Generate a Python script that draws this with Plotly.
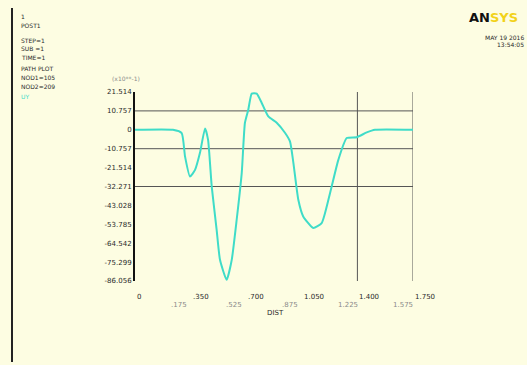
import plotly.graph_objects as go

# Path plot: distance along the path vs. item value
dist = [0.000, 0.239, 0.294, 0.315, 0.346, 0.378, 0.409, 0.441, 0.460, 0.483,
        0.514, 0.535, 0.577, 0.609, 0.640, 0.672, 0.692, 0.713, 0.735, 0.766,
        0.797, 0.839, 0.892, 0.944, 0.976, 0.997, 1.028, 1.059, 1.122, 1.175,
        1.228, 1.280, 1.333, 1.396, 1.459, 1.511, 1.750]
value = [0.0, 0.0, -1.9, -15.2, -26.6, -22.8, -13.1, 0.8, -5.7, -32.3,
         -56.9, -74.0, -85.4, -74.0, -51.2, -24.5, 4.0, 11.4, 20.6, 20.6,
         15.4, 7.6, 4.0, -1.7, -6.7, -18.8, -39.8, -49.3, -55.9, -53.1,
         -35.9, -17.1, -4.7, -4.2, -1.5, 0.0, 0.0]

y_ticks = [21.514, 10.757, 0.0, -10.757, -21.514, -32.271, -43.028,
           -53.785, -64.542, -75.299, -86.056]
y_labels = ["21.514", "10.757", "0", "-10.757", "-21.514", "-32.271", "-43.028",
            "-53.785", "-64.542", "-75.299", "-86.056"]
x_ticks = [0.0, 0.35, 0.70, 1.05, 1.40, 1.75]
x_labels = ["0", ".350", ".700", "1.050", "1.400", "1.750"]
x_mid_ticks = [0.175, 0.525, 0.875, 1.225, 1.575]
x_mid_labels = [".175", ".525", ".875", "1.225", "1.575"]
grid_y = [10.757, -10.757, -32.271]
grid_x = [1.40, 1.75]

legend_lines = ["1", "POST1", "", "STEP=1", "SUB =1", "TIME=1",
                "PATH PLOT", "NOD1=105", "NOD2=209"]
item_name = "UY"
date_lines = ["MAY 19 2016", "13:54:05"]

W, H = 527, 365
L, R, T, B = 135, 413, 92, 281
BG = "#fdfde2"
TXT = "#2a2a2a"
FONT = "DejaVu Sans"


def px(xp):
    return (xp - L) / (R - L)


def py(yp):
    return (B - yp) / (B - T)


fig = go.Figure()
fig.add_trace(go.Scatter(
    x=dist, y=value, mode="lines",
    line=dict(color="#3fdcc8", width=2, shape="spline", smoothing=0.5),
    hoverinfo="skip", showlegend=False, cliponaxis=False,
))

shapes = []
for gy in grid_y:
    shapes.append(dict(type="line", xref="x", yref="y", x0=0, x1=1.75,
                       y0=gy, y1=gy, line=dict(color="#555555", width=1),
                       layer="below"))
for gx in grid_x:
    shapes.append(dict(type="line", xref="x", yref="y", x0=gx, x1=gx,
                       y0=y_ticks[-1], y1=y_ticks[0],
                       line=dict(color="#555555", width=1), layer="below"))
# frame line at the left edge of the page
shapes.append(dict(type="line", xref="paper", yref="paper",
                   x0=px(12), x1=px(12), y0=py(8), y1=py(362),
                   line=dict(color="#222222", width=2)))

ann = []
for xv, lab in zip(x_ticks, x_labels):
    ann.append(dict(x=xv, y=0, xref="x", yref="paper", text=lab,
                    xanchor="left", yanchor="top", yshift=-10, showarrow=False,
                    font=dict(family=FONT, size=7, color=TXT)))
for xv, lab in zip(x_mid_ticks, x_mid_labels):
    ann.append(dict(x=xv, y=0, xref="x", yref="paper", text=lab,
                    xanchor="left", yanchor="top", yshift=-18, xshift=6,
                    showarrow=False,
                    font=dict(family=FONT, size=7, color="#8a8a8a")))
ann.append(dict(x=px(275), y=py(313), xref="paper", yref="paper", text="DIST",
                xanchor="center", yanchor="middle", showarrow=False,
                font=dict(family=FONT, size=7, color=TXT)))
ann.append(dict(x=px(126), y=py(79), xref="paper", yref="paper",
                text="(x10**-1)", xanchor="center", yanchor="middle",
                showarrow=False, font=dict(family=FONT, size=6, color="#8a8a8a")))

ys = [16, 25, 33, 40, 48, 58, 68, 78, 87]
for yp, line in zip(ys, legend_lines):
    if not line:
        continue
    ann.append(dict(x=px(19), y=py(yp), xref="paper", yref="paper", text=line,
                    xanchor="left", yanchor="middle", showarrow=False,
                    font=dict(family=FONT, size=6, color=TXT)))
ann.append(dict(x=px(19), y=py(96), xref="paper", yref="paper", text=item_name,
                xanchor="left", yanchor="middle", showarrow=False,
                font=dict(family=FONT, size=6, color="#3fdcc8")))

ann.append(dict(x=px(467), y=py(18), xref="paper", yref="paper",
                text="<b>AN</b><b><span style='color:#f2d21a'>SYS</span></b>",
                xanchor="left", yanchor="middle", showarrow=False,
                font=dict(family=FONT, size=13, color="#111111")))
for yp, line in zip([37, 44], date_lines):
    ann.append(dict(x=px(526), y=py(yp), xref="paper", yref="paper", text=line,
                    xanchor="right", yanchor="middle", showarrow=False,
                    font=dict(family=FONT, size=6, color=TXT)))

fig.update_layout(
    width=W, height=H,
    margin=dict(l=L, r=W - R, t=T, b=H - B),
    paper_bgcolor=BG, plot_bgcolor=BG,
    shapes=shapes, annotations=ann,
    xaxis=dict(range=[0, 1.75], showgrid=False, zeroline=False,
               showticklabels=False, ticks="", showline=False, fixedrange=True),
    yaxis=dict(range=[y_ticks[-1], y_ticks[0]], tickvals=y_ticks,
               ticktext=y_labels, showgrid=False, zeroline=False, ticks="",
               showline=True, linecolor="#111111", linewidth=2,
               tickfont=dict(family=FONT, size=7, color=TXT), fixedrange=True),
)

fig.write_html("out.html")
